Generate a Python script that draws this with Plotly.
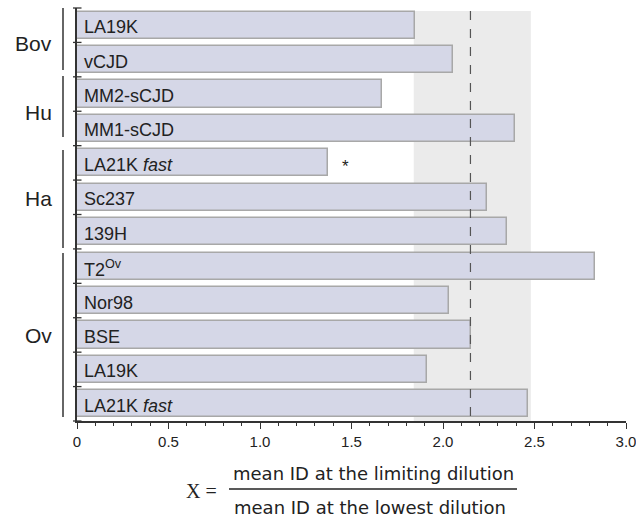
import plotly.graph_objects as go

# ---- data ----
labels = ["LA19K", "vCJD", "MM2-sCJD", "MM1-sCJD", "LA21K <i>fast</i>", "Sc237", "139H",
          "T2<sup>Ov</sup>", "Nor98", "BSE", "LA19K", "LA21K <i>fast</i>"]
values = [1.845, 2.053, 1.665, 2.393, 1.373, 2.242, 2.352, 2.831, 2.033, 2.151, 1.913, 2.463]
groups = ["Bov", "Hu", "Ha", "Ov"]
group_sizes = [2, 2, 3, 5]
band = [1.84, 2.48]
mean_line = 2.15
significant = [4]  # index of bar marked with asterisk
x_tickvals = [0, 0.5, 1.0, 1.5, 2.0, 2.5, 3.0]
x_ticktext = ["0", "0.5", "1.0", "1.5", "2.0", "2.5", "3.0"]

FONT = "Liberation Sans, Arial, sans-serif"
n = len(labels)
ypos = list(range(n))

# pixel helpers (plot area: x 77..626, y 8..421)
L, R, T, B = 77, 626, 8, 421
def px2paperx(px):
    return (px - L) / (R - L)
def px2papery(py):
    return (B - py) / (B - T)

fig = go.Figure()
fig.add_trace(go.Bar(
    x=values, y=ypos, orientation="h", width=0.79,
    marker=dict(color="#d5d7e7", line=dict(color="#a8a8a8", width=1.5)),
    hoverinfo="skip", showlegend=False,
))

shapes = []
# grey band
shapes.append(dict(type="rect", xref="x", yref="y", x0=band[0], x1=band[1], y0=-0.41, y1=n - 0.5,
                    fillcolor="#ebebeb", line=dict(width=0), layer="below"))
# dashed mean line
shapes.append(dict(type="line", xref="x", yref="y", x0=mean_line, x1=mean_line, y0=-0.41, y1=n - 0.5,
                    line=dict(color="#555555", width=1.2, dash="dash"), layer="above"))
# y ticks at category boundaries (crossing the axis)
for b in range(n + 1):
    shapes.append(dict(type="line", xref="paper", yref="paper", x0=-4 / (R - L), x1=4.5 / (R - L),
                        y0=1 - b / n, y1=1 - b / n, line=dict(color="#333333", width=1.3)))

annotations = []
# bar labels
for i, lab in enumerate(labels):
    annotations.append(dict(x=0, y=i, xref="x", yref="y", text=lab, showarrow=False,
                            xanchor="left", yanchor="middle", xshift=5, yshift=-2,
                            font=dict(family=FONT, size=18, color="#222222")))
# asterisk
for i in significant:
    annotations.append(dict(x=values[i], y=i, xref="x", yref="y", text="*", showarrow=False,
                            xanchor="center", yanchor="middle", xshift=17, yshift=-4,
                            font=dict(family=FONT, size=17, color="#222222")))

# group labels and brackets
start = 0
gaps = [(8, 70), (76, 137), (150, 248), (253, 417)]
for g, size, (ya, yb) in zip(groups, group_sizes, gaps):
    center = start + (size - 1) / 2
    annotations.append(dict(x=px2paperx(54), y=center, xref="paper", yref="y", text=g,
                            showarrow=False, xanchor="right", yanchor="middle", yshift=-1,
                            font=dict(family=FONT, size=21, color="#222222")))
    shapes.append(dict(type="line", xref="paper", yref="paper",
                        x0=px2paperx(63), x1=px2paperx(63), y0=px2papery(ya), y1=px2papery(yb),
                        line=dict(color="#333333", width=1.5)))
    start += size

# formula
annotations.append(dict(x=px2paperx(201), y=px2papery(491), xref="paper", yref="paper",
                        text="X =", showarrow=False, xanchor="center", yanchor="middle",
                        font=dict(family="Liberation Serif, Times New Roman, serif", size=20, color="#222222")))
annotations.append(dict(x=px2paperx(373), y=px2papery(473), xref="paper", yref="paper",
                        text="mean ID at the limiting dilution", showarrow=False,
                        xanchor="center", yanchor="middle",
                        font=dict(family="DejaVu Sans, sans-serif", size=18, color="#222222")))
annotations.append(dict(x=px2paperx(370), y=px2papery(507), xref="paper", yref="paper",
                        text="mean ID at the lowest dilution", showarrow=False,
                        xanchor="center", yanchor="middle",
                        font=dict(family="DejaVu Sans, sans-serif", size=18, color="#222222")))
shapes.append(dict(type="line", xref="paper", yref="paper",
                    x0=px2paperx(229), x1=px2paperx(517), y0=px2papery(489), y1=px2papery(489),
                    line=dict(color="#222222", width=1.3)))

fig.update_layout(
    width=636, height=523,
    margin=dict(l=L, r=636 - R, t=T, b=523 - B, pad=0, autoexpand=False),
    plot_bgcolor="white", paper_bgcolor="white",
    shapes=shapes, annotations=annotations,
    bargap=0,
    xaxis=dict(range=[0, 3.0], tickvals=x_tickvals, ticktext=x_ticktext, automargin=False,
               ticklabeloverflow="allow",
               showgrid=False, zeroline=False, showline=True, linecolor="#333333", linewidth=1.5,
               ticks="outside", ticklen=6, tickwidth=1.3, tickcolor="#333333",
               minor=dict(dtick=0.1, tick0=0, ticks="outside", ticklen=3.5, tickwidth=1.1, tickcolor="#333333"),
               tickfont=dict(family=FONT, size=15, color="#222222"), fixedrange=True),
    yaxis=dict(range=[n - 0.5, -0.5], showticklabels=False, automargin=False,
               showgrid=False, zeroline=False, showline=True, linecolor="#333333", linewidth=1.5,
               ticks="", fixedrange=True),
)

fig.write_html("out.html")
